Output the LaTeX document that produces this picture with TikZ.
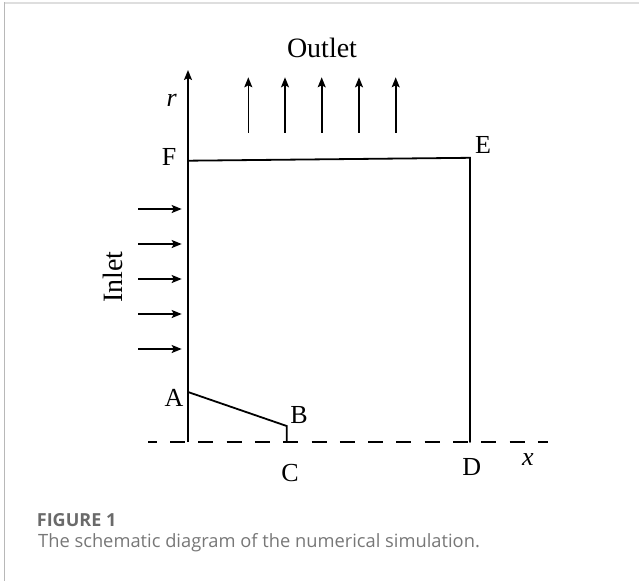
\documentclass[tikz,border=0pt]{standalone}
\usepackage{fontspec}
\setmainfont{Liberation Serif}
\newfontfamily\capfont{Open Sans}
\usetikzlibrary{arrows.meta}
\definecolor{capgray}{HTML}{777777}
\definecolor{figgray}{HTML}{6A6A6A}
\tikzset{
  wall/.style={line width=1.8pt, line cap=round},
  flow/.style={line width=1.6pt, -{Stealth[length=10pt,width=8pt,inset=2pt]}},
  lbl/.style={inner sep=0pt, font=\fontsize{26}{28}\selectfont},
  axisline/.style={line width=1.7pt, dash pattern=on 15pt off 13.3pt, dash phase=6.3pt}
}
\begin{document}
\begin{tikzpicture}[x=1pt,y=-1pt]
\useasboundingbox (0,0) rectangle (639,581);
% frame
\draw[line width=2pt, color=black!13] (4,2.5) -- (639,2.5);
\draw[line width=1pt, color=black!28] (4,2) -- (4,581);
% key points
\coordinate (O) at (188,442);
\coordinate (rtop) at (188,70);
\coordinate (F) at (188,160.7);
\coordinate (E) at (470,157.8);
\coordinate (D) at (470,442);
\coordinate (A) at (188,392);
\coordinate (B) at (286.7,426);
\coordinate (C) at (286.7,442);
\coordinate (xl) at (148,442);
\coordinate (xr) at (548,442);
% axis line
\draw[axisline] (xl) -- (xr);
% r axis
\draw[flow] (O) -- (rtop);
% domain
\draw[wall] (F) -- (E) -- (D);
\draw[wall] (A) -- (B) -- (C);
% outlet arrows
\foreach \i/\xx in {1/248.3,2/285,3/321.7,4/359,5/395.7}{
  \coordinate (ob\i) at (\xx,132.7);
  \coordinate (ot\i) at (\xx,77.3);
  \draw[flow] (ob\i) -- (ot\i);
}
% inlet arrows
\foreach \i/\yy in {1/209,2/244,3/279,4/314,5/349}{
  \coordinate (ib\i) at (138,\yy);
  \coordinate (it\i) at (181.7,\yy);
  \draw[flow] (ib\i) -- (it\i);
}
% labels
\node[lbl] (lF) at (169,157) {F};
\node[lbl] (lE) at (483,145) {E};
\node[lbl] (lA) at (174,398) {A};
\node[lbl] (lB) at (299,415) {B};
\node[lbl] (lC) at (290,473) {C};
\node[lbl] (lD) at (471.7,466.7) {D};
\node[lbl] (lx) at (528,460) {\itshape x};
\node[lbl] (lr) at (171.7,100) {\itshape r};
\node[inner sep=0pt, font=\fontsize{28}{30}\selectfont] (outlet) at (322,48) {Outlet};
\node[inner sep=0pt, font=\fontsize{28}{30}\selectfont, rotate=90] (inlet) at (113,277) {Inlet};
% caption
\node[anchor=west, inner sep=0pt, font=\capfont\bfseries\fontsize{18}{20}\selectfont, text=figgray] (fig) at (36.7,520) {FIGURE 1};
\node[anchor=west, inner sep=0pt, font=\capfont\fontsize{18.3}{20}\selectfont, text=capgray] (cap) at (38,543) {The schematic diagram of the numerical simulation.};
\end{tikzpicture}
\end{document}
